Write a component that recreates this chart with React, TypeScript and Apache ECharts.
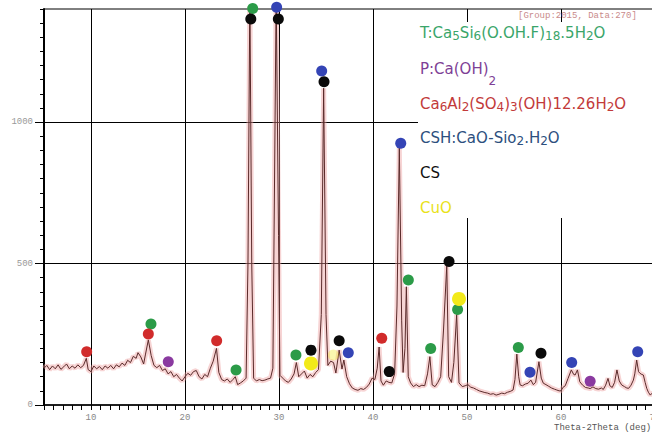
import React, { useEffect, useRef } from "react";
import * as echarts from "echarts";

const twoTheta = [
  5.0, 5.3, 5.6, 5.9, 6.2, 6.5, 6.8, 7.1, 7.4, 7.7, 8.0, 8.3, 8.6, 8.9, 9.2, 9.5, 9.7, 10.0, 10.3, 10.6,
  10.9, 11.2, 11.5, 11.8, 12.1, 12.4, 12.7, 13.0, 13.3, 13.6, 13.9, 14.2, 14.5, 14.8, 15.0, 15.3, 15.6, 15.8, 16.1, 16.4,
  16.7, 17.0, 17.3, 17.6, 17.9, 18.2, 18.5, 18.8, 19.1, 19.4, 19.7, 20.0, 20.3, 20.6, 20.9, 21.2, 21.5, 21.8, 22.1, 22.4,
  22.7, 23.0, 23.35, 23.6, 23.9, 24.2, 24.5, 24.8, 25.1, 25.35, 25.6, 25.9, 26.2, 26.5, 26.7, 26.9, 27.1, 27.3, 27.6, 27.9,
  28.2, 28.5, 28.8, 29.1, 29.35, 29.5, 29.7, 29.95, 30.1, 30.4, 30.7, 31.0, 31.3, 31.6, 31.85, 32.1, 32.4, 32.7, 33.0, 33.3,
  33.6, 33.9, 34.2, 34.5, 34.75, 35.0, 35.2, 35.5, 35.8, 36.05, 36.4, 36.7, 36.9, 37.2, 37.5, 37.8, 38.1, 38.4, 38.7, 39.0,
  39.3, 39.6, 39.9, 40.2, 40.45, 40.65, 40.85, 41.1, 41.4, 41.7, 42.0, 42.3, 42.55, 42.8, 43.05, 43.2, 43.4, 43.55, 43.75, 44.0,
  44.3, 44.6, 44.9, 45.2, 45.5, 45.8, 46.05, 46.3, 46.6, 46.9, 47.2, 47.5, 47.85, 48.05, 48.35, 48.6, 48.9, 49.15, 49.5, 49.8,
  50.1, 50.4, 50.7, 51.0, 51.3, 51.6, 51.9, 52.2, 52.5, 52.8, 53.1, 53.4, 53.7, 54.0, 54.3, 54.6, 54.9, 55.1, 55.3, 55.5,
  55.65, 55.9, 56.2, 56.5, 56.8, 57.05, 57.3, 57.65, 57.9, 58.12, 58.4, 58.7, 59.0, 59.3, 59.55, 59.8, 60.0, 60.2, 60.45, 60.75,
  61.1, 61.35, 61.5, 61.75, 62.0, 62.3, 62.6, 62.9, 63.1, 63.4, 63.7, 64.0, 64.3, 64.5, 64.75, 65.0, 65.2, 65.45, 65.7, 65.95,
  66.2, 66.45, 66.75, 67.0, 67.2, 67.45, 67.7, 67.85, 68.05, 68.25, 68.4, 68.6, 68.76, 68.95, 69.12, 69.3, 69.5, 69.7, 70.0,
];
const counts = [
  130, 140, 125, 138, 128, 142, 126, 135, 145, 128, 138, 130, 142, 132, 140, 165, 125, 118, 138, 128,
  136, 125, 138, 130, 140, 128, 142, 135, 148, 140, 158, 150, 172, 165, 185, 170, 145, 180, 230, 175,
  140, 132, 140, 122, 128, 110, 118, 100, 108, 95, 85, 100, 112, 105, 118, 122, 100, 92, 108, 100,
  130, 155, 200, 115, 90, 85, 92, 80, 90, 100, 72, 78, 85, 95, 500, 1460, 500, 95, 85, 90,
  86, 88, 92, 95, 130, 700, 1460, 600, 105, 95, 85, 80, 92, 110, 150, 100, 110, 120, 95, 108,
  100, 115, 125, 320, 1120, 320, 140, 155, 150, 113, 194, 127, 159, 100, 75, 60, 55, 52, 58, 55,
  62, 74, 95, 90, 130, 205, 85, 70, 85, 80, 78, 110, 350, 910, 300, 115, 200, 418, 100, 78,
  65, 72, 65, 70, 68, 110, 171, 71, 65, 80, 100, 265, 495, 100, 80, 150, 320, 78, 65, 68,
  72, 63, 60, 55, 50, 47, 44, 42, 38, 40, 35, 38, 42, 40, 45, 48, 53, 90, 180, 100,
  71, 68, 74, 77, 88, 72, 80, 153, 95, 77, 72, 66, 60, 56, 53, 50, 50, 62, 68, 94,
  124, 108, 106, 124, 82, 70, 62, 60, 58, 64, 58, 56, 60, 55, 70, 94, 68, 62, 80, 124,
  85, 71, 65, 60, 59, 70, 88, 110, 159, 118, 112, 108, 106, 80, 59, 45, 35, 42, 40,
];

// Phase markers [2θ, counts]
const phaseT = [[16.38, 286], [25.43, 124], [27.2, 1402], [31.8, 177], [43.76, 442], [46.14, 200], [49.0, 338], [55.46, 203]];
const phaseP = [[18.22, 153], [63.1, 84]];
const phaseEtt = [[9.54, 188], [16.1, 251], [23.37, 227], [40.93, 236]];
const phaseCSH = [[29.75, 1406], [34.54, 1181], [37.37, 185], [42.95, 925], [56.7, 116], [61.14, 150], [68.16, 188]];
const phaseCS = [[27.0, 1365], [29.93, 1365], [33.4, 194], [34.79, 1143], [36.4, 227], [41.73, 118], [48.09, 507], [57.87, 183]];
const phaseCuO = [[33.4, 147], [49.15, 375]];
const phaseCuOFaint = [[35.78, 177]];

const xGridLines = [10, 20, 30, 40, 50, 60];
const yGridLines = [500, 1000];
const yMajorTicks = [0, 500, 1000];

// Legend labels; "_" marks a subscript run of digits
const legendLabels = [
  "T:Ca_5Si_6(O.OH.F)_18.5H_2O",
  "P:Ca(OH)_2",
  "Ca_6Al_2(SO_4)_3(OH)12.26H_2O",
  "CSH:CaO-Sio_2.H_2O",
  "CS",
  "CuO",
];
const legendColors = ["#3aa56a", "#7e3f96", "#c23a3a", "#2d4f7e", "#111111", "#e9e21a"];
const headerText = "[Group:2015, Data:270]";
const xAxisTitle = "Theta-2Theta (deg)";

function toRich(label: string, normalStyle: string, subStyle: string) {
  const parts = label.split(/_(\d+)/);
  return parts
    .map((p, i) => (p === "" ? "" : i % 2 === 1 ? `{${subStyle}|${p}}` : `{${normalStyle}|${p}}`))
    .join("");
}

export default function App() {
  const ref = useRef<HTMLDivElement>(null);
  useEffect(() => {
    if (!ref.current) return;
    const chart = echarts.init(ref.current, undefined, { renderer: "svg" });
    const trace = twoTheta.map((x, i) => [x, counts[i]]);
    const markerSeries = (name: string, data: number[][], color: string, size = 11, opacity = 1) => ({
      name,
      type: "scatter",
      data,
      symbol: "circle",
      symbolSize: size,
      clip: false,
      z: 5,
      itemStyle: { color, opacity },
      silent: true,
    });
    const legendY = [33, 81, 104, 138, 173, 208];
    const font = "'DejaVu Sans', sans-serif";
    chart.setOption({
      animation: false,
      backgroundColor: "#ffffff",
      grid: {
        left: 44,
        right: 0,
        top: 9,
        bottom: 29,
        show: true,
        borderColor: "#000",
        borderWidth: 1,
        outerBoundsMode: "none",
        containLabel: false,
      },
      xAxis: {
        type: "value",
        min: 5,
        max: 70,
        interval: 1,
        axisLine: { show: true, lineStyle: { color: "#000", width: 1.5 } },
        axisTick: { show: true, length: 5, lineStyle: { color: "#000", width: 1 } },
        axisLabel: {
          margin: 8,
          color: "#888",
          fontSize: 9,
          fontFamily: "Liberation Mono, monospace",
          formatter: (v: number) => (v % 10 === 0 ? String(v) : ""),
        },
        splitLine: { show: false },
      },
      yAxis: [
        {
          type: "value",
          min: 0,
          max: 1400,
          interval: 50,
          axisLine: { show: true, lineStyle: { color: "#000", width: 2 } },
          axisTick: { show: true, length: 4, lineStyle: { color: "#000", width: 1 } },
          axisLabel: {
            margin: 11,
            color: "#999",
            fontSize: 9,
            fontFamily: "Liberation Mono, monospace",
            formatter: (v: number) => (yMajorTicks.includes(v) ? String(v) : ""),
          },
          splitLine: { show: false },
        },
        {
          type: "value",
          min: 0,
          max: 1400,
          interval: 500,
          position: "left",
          axisLine: { show: false },
          axisTick: { show: true, length: 9, customValues: yMajorTicks, lineStyle: { color: "#000", width: 1 } },
          axisLabel: { show: false },
          splitLine: { show: false },
        },
      ],
      series: [
        {
          name: "glow",
          type: "line",
          data: trace,
          showSymbol: false,
          silent: true,
          lineStyle: { color: "rgba(238,160,160,0.45)", width: 5 },
          z: 2,
        },
        {
          name: "pattern",
          type: "line",
          data: trace,
          showSymbol: false,
          silent: true,
          lineStyle: { color: "#5a2a2a", width: 1 },
          z: 3,
          markLine: {
            silent: true,
            symbol: "none",
            label: { show: false },
            lineStyle: { color: "#000", width: 1, type: "solid" },
            data: [
              ...xGridLines.map((x) => ({ xAxis: x })),
              ...yGridLines.map((y) => ({ yAxis: y })),
            ],
            z: 1,
          },
        },
        markerSeries("T", phaseT, "#2b9b48"),
        markerSeries("P", phaseP, "#8a3aa0"),
        markerSeries("Ettringite", phaseEtt, "#d12b2b"),
        markerSeries("CSH", phaseCSH, "#3444b5"),
        markerSeries("CS", phaseCS, "#0a0a0a"),
        markerSeries("CuO", phaseCuO, "#f2ea1a", 14),
        markerSeries("CuO faint", phaseCuOFaint, "#f2ea1a", 11, 0.35),
      ],
      graphic: [
        { type: "rect", shape: { x: 418, y: 22, width: 240, height: 196 }, style: { fill: "#ffffff" }, z: 20 },
        ...legendLabels.map((t, i) => ({
          type: "text",
          x: 420,
          y: legendY[i],
          z: 21,
          style: {
            text: i === 1 ? toRich(t, "m", "p") : toRich(t, "n", "s"),
            fill: legendColors[i],
            verticalAlign: "middle",
            align: "left",
            rich: {
              n: { fontSize: 15, fontFamily: font, lineHeight: 18, verticalAlign: "middle", fill: legendColors[i] },
              m: { fontSize: 15, fontFamily: font, lineHeight: 18, verticalAlign: "top", fill: legendColors[i] },
              s: { fontSize: 12, fontFamily: font, lineHeight: 12, verticalAlign: "bottom", fill: legendColors[i] },
              p: { fontSize: 12, fontFamily: font, lineHeight: 40, verticalAlign: "middle", fill: legendColors[i] },
            },
          },
        })),
        {
          type: "text",
          x: 518,
          y: 16,
          z: 21,
          style: { text: headerText, fill: "#c98a8a", font: "9px 'Liberation Mono', monospace", verticalAlign: "middle" },
        },
        {
          type: "text",
          x: 554,
          y: 428,
          z: 21,
          style: { text: xAxisTitle, fill: "#555", font: "9px 'Liberation Mono', monospace", verticalAlign: "middle" },
        },
      ],
    });
    return () => chart.dispose();
  }, []);
  return (
    <div style={{ position: "absolute", left: 0, top: 0, width: 652, height: 434, overflow: "hidden" }}>
      <div ref={ref} style={{ width: 655, height: 434 }} />
    </div>
  );
}
